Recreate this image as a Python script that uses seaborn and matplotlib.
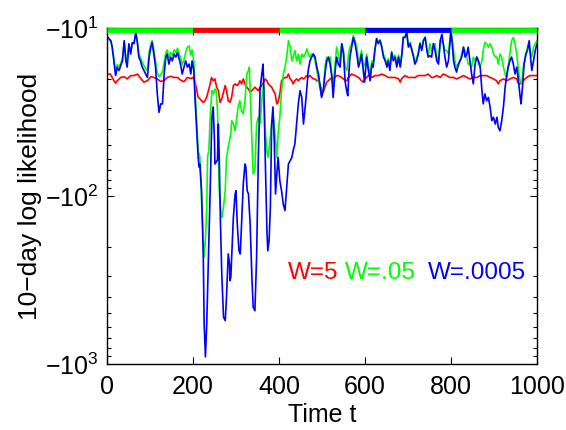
import numpy as np
import pandas as pd
import matplotlib
matplotlib.use("Agg")
import matplotlib.pyplot as plt
import seaborn as sns

# --- Data ---
# 10-day log likelihood for three values of W, sampled along time t
t_w5 = [0, 8, 16, 20, 24, 32, 40, 47, 55, 63, 71, 78, 86, 94, 102, 109, 117, 125, 133, 140,
        148, 156, 164, 171, 179, 187, 195, 200, 205, 209, 212, 216, 220, 224, 228, 232, 236, 240, 243, 247,
        251, 255, 259, 263, 267, 271, 275, 278, 282, 286, 290, 294, 298, 302, 306, 309, 313, 317, 321, 325,
        329, 333, 337, 340, 344, 348, 352, 356, 360, 364, 368, 372, 375, 383, 387, 391, 395, 398, 402, 406,
        410, 414, 418, 422, 426, 430, 433, 437, 441, 445, 449, 453, 457, 461, 464, 468, 472, 476, 480, 484,
        488, 492, 495, 499, 503, 507, 511, 515, 519, 523, 527, 530, 534, 538, 546, 554, 558, 561, 569, 577,
        585, 592, 596, 600, 608, 616, 623, 631, 639, 647, 654, 662, 670, 678, 682, 685, 693, 701, 709, 716,
        724, 732, 740, 747, 755, 759, 767, 775, 782, 790, 798, 806, 813, 821, 829, 837, 844, 852, 860, 868,
        875, 883, 891, 899, 906, 910, 914, 922, 930, 937, 945, 953, 957, 961, 968, 976, 984, 992, 1000]
ll_w5 = [-18.8, -18.8, -20.6, -21.3, -20.6, -19.7, -19.5, -20.1, -19.2, -19.2, -18.8, -19.9, -21.0, -20.6, -19.5, -19.7, -20.1, -20.8, -20.6, -19.7,
         -19.4, -19.7, -19.7, -20.4, -20.9, -19.7, -20.0, -19.7, -21.0, -23.6, -25.8, -26.4, -27.1, -27.7, -27.1, -25.8, -23.6, -21.5, -19.7, -20.6,
         -20.1, -22.5, -23.6, -27.7, -26.4, -24.1, -22.0, -23.6, -27.1, -27.7, -25.8, -22.0, -21.5, -22.0, -21.5, -20.6, -21.5, -20.1, -21.5, -22.5,
         -23.1, -24.1, -23.6, -23.1, -22.5, -23.1, -23.6, -22.5, -22.0, -21.0, -20.1, -20.6, -21.5, -22.5, -23.6, -24.7, -28.3, -27.7, -24.7, -20.6,
         -20.1, -19.7, -19.7, -18.8, -20.1, -20.6, -21.5, -20.6, -20.1, -20.6, -20.1, -19.7, -20.1, -19.7, -19.2, -19.7, -19.2, -19.7, -20.1, -20.1,
         -20.6, -20.6, -21.5, -23.6, -24.1, -22.5, -21.0, -20.6, -20.1, -19.7, -20.1, -19.7, -19.2, -19.2, -19.7, -20.6, -20.6, -19.7, -18.8, -19.2,
         -19.7, -20.6, -21.0, -20.1, -19.2, -19.7, -19.2, -19.2, -18.8, -19.2, -19.7, -19.7, -19.7, -20.1, -21.0, -20.1, -19.2, -19.7, -19.7, -19.7,
         -19.2, -19.2, -19.2, -18.8, -19.7, -19.7, -19.2, -19.7, -18.8, -19.2, -19.7, -19.7, -20.1, -19.7, -19.2, -19.7, -20.1, -19.7, -19.7, -19.2,
         -19.2, -19.2, -19.7, -20.1, -20.6, -21.5, -20.6, -20.1, -20.6, -20.1, -19.7, -20.1, -21.5, -21.5, -20.6, -19.7, -19.2, -19.2, -19.2]

t_w05 = [0, 9, 12, 16, 20, 24, 28, 32, 36, 40, 44, 47, 51, 55, 59, 63, 67, 71, 74, 78,
         82, 86, 90, 94, 98, 102, 105, 109, 113, 117, 121, 125, 129, 133, 137, 140, 144, 148, 152, 156,
         160, 164, 168, 171, 175, 179, 183, 187, 191, 195, 198, 202, 205, 209, 212, 216, 220, 224, 226, 229,
         232, 234, 237, 240, 244, 247, 251, 254, 257, 259, 261, 265, 267, 271, 275, 278, 282, 285, 288, 290,
         294, 298, 302, 305, 309, 313, 317, 321, 325, 329, 331, 333, 337, 340, 344, 348, 352, 356, 360, 364,
         367, 372, 375, 379, 383, 387, 389, 392, 395, 398, 402, 406, 410, 414, 418, 422, 426, 430, 433, 437,
         441, 445, 449, 453, 457, 461, 465, 468, 472, 476, 480, 484, 488, 492, 495, 499, 503, 507, 511, 515,
         519, 523, 526, 530, 534, 538, 542, 546, 550, 554, 558, 561, 565, 569, 573, 577, 581, 585, 589, 592,
         596, 600, 604, 608, 612, 616, 619, 623, 627, 631, 635, 639, 643, 647, 651, 654, 658, 662, 666, 670,
         674, 678, 682, 686, 689, 693, 697, 701, 705, 709, 713, 716, 720, 724, 728, 732, 736, 740, 744, 747,
         751, 755, 759, 763, 767, 771, 775, 779, 782, 786, 790, 794, 798, 800, 803, 806, 809, 813, 817, 821,
         825, 829, 833, 837, 840, 844, 848, 852, 856, 860, 864, 868, 872, 875, 879, 883, 887, 891, 895, 899,
         903, 907, 910, 914, 918, 922, 926, 930, 933, 937, 941, 945, 949, 953, 957, 961, 965, 968, 972, 976,
         980, 984, 988, 992, 996, 1000]
ll_w05 = [-11.5, -12.0, -12.8, -15.0, -18.0, -16.5, -17.0, -16.2, -15.2, -12.2, -15.0, -16.0, -12.6, -13.8, -12.3, -12.2, -10.8, -12.2, -14.2, -15.0,
          -16.0, -16.8, -17.5, -18.0, -14.0, -12.5, -11.9, -13.5, -15.8, -18.5, -19.5, -19.0, -18.2, -16.0, -14.0, -13.5, -15.0, -14.0, -14.6, -13.5,
          -14.0, -13.2, -14.3, -15.0, -16.5, -15.5, -14.0, -13.0, -12.8, -14.5, -13.5, -15.8, -23.6, -37.3, -53.7, -58.6, -107, -185, -231, -183,
          -116, -58.6, -53.2, -34.0, -23.6, -24.7, -23.1, -23.6, -31.1, -46.9, -93.0, -128, -134, -116, -93.0, -58.9, -51.3, -46.9, -42.7, -35.6,
          -37.3, -40.9, -34.0, -29.6, -27.1, -31.1, -32.5, -27.1, -18.8, -17.9, -17.1, -23.6, -46.9, -74.0, -70.7, -37.3, -34.0, -37.3, -27.1, -21.5,
          -37.3, -55.0, -58.9, -46.9, -37.3, -34.0, -37.3, -46.9, -58.9, -42.7, -34.0, -23.6, -18.8, -17.1, -14.9, -11.9, -13.0, -15.7, -14.9, -13.6,
          -15.7, -14.3, -16.4, -14.3, -14.9, -14.3, -13.3, -14.3, -14.9, -14.3, -14.3, -15.7, -17.9, -20.6, -22.5, -25.3, -23.6, -17.1, -14.9, -15.7,
          -14.9, -18.8, -22.5, -17.1, -13.0, -14.3, -16.4, -12.4, -13.6, -17.1, -17.9, -14.9, -13.0, -12.4, -11.1, -11.9, -13.0, -15.7, -14.9, -13.6,
          -17.1, -16.4, -14.3, -17.1, -18.8, -15.7, -16.4, -13.4, -11.5, -12.2, -11.7, -12.8, -14.4, -15.2, -16.5, -15.2, -17.0, -13.8, -15.2, -14.5,
          -16.4, -14.5, -16.5, -14.0, -11.3, -11.3, -10.6, -12.7, -12.2, -13.3, -14.5, -15.8, -15.2, -14.0, -12.2, -13.3, -11.8, -11.3, -13.3, -14.5,
          -12.4, -13.6, -13.0, -12.4, -14.9, -15.7, -12.4, -11.9, -12.4, -13.6, -13.6, -14.3, -11.4, -10.4, -11.9, -13.6, -15.7, -17.1, -17.1, -15.7,
          -14.3, -13.0, -13.6, -14.9, -16.4, -16.4, -17.1, -14.9, -15.7, -14.9, -16.4, -17.1, -15.7, -13.6, -12.2, -12.4, -13.0, -12.4, -13.0, -14.3,
          -14.9, -14.9, -16.4, -14.3, -14.9, -17.1, -18.8, -19.7, -17.1, -14.3, -11.9, -11.4, -12.4, -14.3, -17.9, -20.6, -21.5, -17.1, -15.7, -13.6,
          -12.4, -13.6, -14.9, -13.0, -12.4, -11.9]

t_w0005 = [0, 9, 12, 16, 20, 24, 28, 32, 36, 40, 44, 47, 51, 55, 59, 63, 67, 71, 74, 78,
           82, 86, 90, 94, 98, 102, 105, 109, 113, 117, 121, 125, 129, 133, 137, 140, 144, 148, 152, 156,
           160, 164, 168, 171, 175, 179, 183, 187, 191, 195, 198, 202, 205, 209, 212, 214, 216, 220, 224, 226,
           229, 232, 236, 240, 244, 247, 250, 251, 254, 257, 259, 261, 264, 267, 271, 275, 278, 282, 285, 286,
           288, 290, 294, 298, 300, 303, 307, 310, 313, 317, 321, 323, 326, 329, 333, 337, 340, 344, 348, 352,
           356, 360, 363, 365, 368, 372, 374, 377, 380, 383, 386, 389, 392, 395, 398, 402, 406, 410, 414, 418,
           422, 426, 430, 433, 437, 441, 445, 449, 453, 457, 461, 465, 468, 472, 476, 480, 484, 488, 492, 495,
           499, 503, 507, 511, 515, 519, 523, 526, 530, 534, 538, 542, 546, 550, 554, 558, 560, 563, 565, 569,
           573, 577, 581, 585, 589, 592, 596, 599, 602, 604, 608, 612, 616, 619, 623, 627, 631, 635, 639, 643,
           647, 651, 654, 658, 662, 666, 670, 674, 678, 682, 686, 689, 693, 697, 701, 705, 709, 713, 716, 720,
           724, 728, 732, 736, 740, 744, 747, 751, 755, 759, 763, 767, 771, 775, 779, 782, 786, 790, 794, 798,
           800, 803, 806, 809, 813, 817, 821, 825, 829, 833, 837, 840, 844, 848, 852, 856, 860, 864, 868, 872,
           875, 879, 883, 887, 891, 895, 899, 903, 907, 910, 914, 918, 922, 926, 930, 933, 937, 941, 945, 949,
           953, 957, 961, 963, 967, 970, 974, 978, 982, 985, 988, 992, 996, 1000]
ll_w0005 = [-11.2, -11.9, -13.0, -15.7, -19.2, -17.1, -17.9, -16.8, -15.7, -11.9, -15.7, -17.1, -12.4, -14.3, -12.2, -12.4, -10.6, -12.4, -14.9, -15.7,
            -17.1, -17.9, -18.8, -19.7, -14.9, -13.0, -12.2, -14.3, -17.1, -24.7, -31.8, -28.3, -28.3, -18.8, -14.9, -14.3, -16.4, -14.9, -15.7, -14.3,
            -14.9, -14.0, -15.3, -16.4, -18.8, -17.1, -15.7, -17.1, -16.4, -18.8, -15.7, -17.9, -27.1, -42.7, -58.6, -67.2, -64.5, -93.0, -231, -578,
            -908, -578, -231, -93.0, -33.9, -29.5, -46.9, -64.5, -62.8, -61.0, -37.3, -58.6, -147, -291, -525, -552, -399, -221, -254, -319,
            -305, -231, -133, -97.3, -93.0, -147, -212, -221, -147, -84.8, -64.5, -67.2, -93.0, -97.3, -147, -303, -458, -482, -231, -58.6,
            -23.6, -18.8, -16.4, -23.6, -58.6, -161, -212, -185, -116, -37.3, -29.5, -46.9, -97.3, -74.0, -58.9, -81.1, -93.0, -112, -122, -88.7,
            -64.5, -61.6, -58.9, -53.7, -49.0, -37.3, -28.3, -23.6, -25.9, -37.3, -29.5, -22.5, -17.9, -15.7, -14.9, -14.3, -14.9, -17.1, -18.8, -21.5,
            -25.9, -23.6, -18.8, -15.7, -14.9, -16.4, -19.7, -25.9, -18.8, -14.9, -16.4, -17.1, -12.4, -14.3, -21.0, -24.1, -25.3, -17.9, -14.9, -13.0,
            -11.4, -12.4, -14.3, -17.1, -15.7, -14.3, -17.9, -21.0, -17.1, -14.9, -17.9, -20.6, -16.4, -17.1, -13.6, -11.6, -12.4, -11.9, -13.0, -14.9,
            -15.7, -17.1, -15.7, -17.9, -14.0, -15.7, -14.9, -17.1, -14.9, -17.1, -14.3, -11.4, -11.4, -10.6, -13.0, -12.4, -13.6, -14.9, -16.4, -15.7,
            -14.3, -12.4, -13.6, -11.9, -11.4, -13.6, -14.9, -14.6, -14.9, -12.4, -13.6, -15.7, -16.4, -11.9, -10.9, -12.4, -14.9, -17.1, -15.7, -11.9,
            -10.4, -12.4, -15.7, -17.1, -18.3, -16.4, -15.7, -14.9, -13.0, -14.9, -14.3, -13.0, -15.7, -18.8, -21.5, -16.4, -14.9, -15.7, -17.1, -23.6,
            -28.3, -24.7, -27.1, -25.9, -29.6, -35.6, -34.0, -37.3, -34.0, -39.0, -40.9, -35.6, -29.6, -22.5, -18.8, -17.1, -15.7, -14.9, -16.4, -18.8,
            -17.1, -20.6, -25.9, -28.3, -21.5, -16.4, -14.3, -13.6, -11.9, -14.9, -17.9, -15.7, -13.6, -12.4]

series_labels = ["W=5", "W=.05", "W=.0005"]
series_colors = ["#ff0000", "#00ff00", "#0000ff"]

# true regime segments shown as the coloured bar along the top
regime_start = [0, 200, 400, 600, 800]
regime_end = [200, 400, 600, 800, 1000]
regime_color = ["#00ff00", "#ff0000", "#00ff00", "#0000ff", "#00ff00"]

# --- Style ---
sns.set_style("ticks")
plt.rcParams["font.family"] = ["Liberation Sans", "DejaVu Sans"]
plt.rcParams["mathtext.fontset"] = "custom"
plt.rcParams["mathtext.rm"] = "Liberation Sans"
plt.rcParams["mathtext.it"] = "Liberation Sans"
plt.rcParams["axes.linewidth"] = 1.0
plt.rcParams["text.color"] = "black"
plt.rcParams["axes.labelcolor"] = "black"
plt.rcParams["xtick.color"] = "black"
plt.rcParams["ytick.color"] = "black"

fig = plt.figure(figsize=(5.66, 4.30), dpi=100)
ax = fig.add_axes([0.189, 0.1535, 0.7597, 0.7814])

frames = [
    pd.DataFrame({"t": t_w5, "ll": ll_w5, "W": series_labels[0]}),
    pd.DataFrame({"t": t_w05, "ll": ll_w05, "W": series_labels[1]}),
    pd.DataFrame({"t": t_w0005, "ll": ll_w0005, "W": series_labels[2]}),
]
df = pd.concat(frames, ignore_index=True)

for label, color in zip(series_labels, series_colors):
    sub = df[df["W"] == label]
    sns.lineplot(data=sub, x="t", y="ll", ax=ax, color=color, linewidth=1.2,
                 estimator=None, sort=False, legend=False)

# coloured regime bar just under the top edge
ax.hlines([-10.3] * len(regime_start), regime_start, regime_end,
          colors=regime_color, linewidth=3.5, zorder=5)


# y axis: log scale of the (negative) log likelihood, -10 at the top
def fwd(y):
    with np.errstate(divide="ignore", invalid="ignore"):
        return -np.log10(-np.asarray(y, dtype=float))


def inv(z):
    return -np.power(10.0, -np.asarray(z, dtype=float))


ax.set_yscale("function", functions=(fwd, inv))
ax.set_ylim(-1000, -10)
ax.set_xlim(0, 1000)

ax.set_yticks([-1000, -100, -10])
ax.set_yticklabels([r"$\mathregular{-10^{3}}$", r"$\mathregular{-10^{2}}$", r"$\mathregular{-10^{1}}$"])
minor = [-m * 10 ** k for k in (1, 2) for m in range(2, 10)]
ax.set_yticks(minor, minor=True)
ax.set_xticks([0, 200, 400, 600, 800, 1000])

ax.tick_params(which="both", direction="in", top=True, right=True, labelsize=18,
               width=0.8, colors="black")
ax.tick_params(which="major", length=5)
ax.tick_params(which="minor", length=3)
ax.tick_params(axis="x", pad=8)
ax.tick_params(axis="y", pad=6)

ax.set_xlabel("Time t", fontsize=18, labelpad=3, color="black")
ax.set_ylabel("10\u2212day log likelihood", fontsize=19, labelpad=2, color="black")

# coloured text legend
legend_x = [0.421, 0.553, 0.746]
for x, label, color in zip(legend_x, series_labels, series_colors):
    ax.text(x, 0.27, label, color=color, fontsize=17.5, transform=ax.transAxes,
            ha="left", va="center")

for s in ax.spines.values():
    s.set_color("black")

plt.savefig("out.png", dpi=100)
